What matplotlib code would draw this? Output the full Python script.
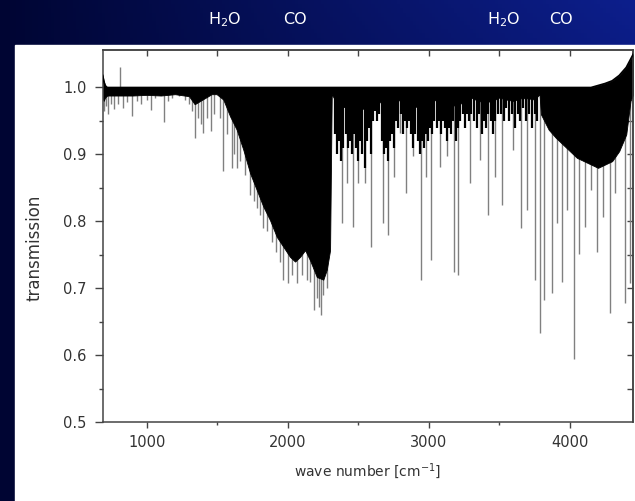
import numpy as np
import matplotlib
matplotlib.use("Agg")
import matplotlib.pyplot as plt
from matplotlib.patches import Rectangle

plt.rcParams['font.family'] = ['DejaVu Sans']
plt.rcParams['mathtext.fontset'] = 'dejavusans'

# dense absorption mass: wave number, upper and lower edge of the black area
wn = [688, 695, 705, 720, 800, 900, 1000, 1100, 1200, 1300, 1340, 1380, 1420,
      1460, 1496, 1543, 1591, 1638, 1685, 1733, 1780, 1827, 1874, 1922, 1969,
      2016, 2052, 2087, 2123, 2158, 2206, 2252, 2277, 2300, 2312, 2325, 2350,
      2380, 2420, 2450, 2500, 2550, 2600, 2640, 2680, 2720, 2760, 2800, 2850,
      2900, 2950, 3000, 3050, 3100, 3150, 3200, 3250, 3300, 3350, 3400, 3450,
      3500, 3550, 3600, 3650, 3700, 3750, 3785, 3795, 3850, 3900, 3950, 4000,
      4050, 4100, 4150, 4200, 4250, 4300, 4350, 4400, 4430, 4450]
upper = [1.018, 1.010, 1.003, 1.000, 1.000, 1.000, 1.000, 1.000, 1.000, 1.000,
         1.000, 1.000, 1.000, 1.000, 1.000, 1.000, 1.000, 1.000, 1.000, 1.000,
         1.000, 1.000, 1.000, 1.000, 1.000, 1.000, 1.000, 1.000, 1.000, 1.000,
         1.000, 1.000, 1.000, 1.000, 1.000, 1.000, 1.000, 1.000, 1.000, 1.000,
         1.000, 1.000, 1.000, 1.000, 1.000, 1.000, 1.000, 1.000, 1.000, 1.000,
         1.000, 1.000, 1.000, 1.000, 1.000, 1.000, 1.000, 1.000, 1.000, 1.000,
         1.000, 1.000, 1.000, 1.000, 1.000, 1.000, 1.000, 1.000, 1.000, 1.000,
         1.000, 1.000, 1.000, 1.000, 1.000, 1.000, 1.003, 1.006, 1.010, 1.018,
         1.030, 1.042, 1.050]
lower = [0.985, 0.980, 0.985, 0.988, 0.988, 0.988, 0.989, 0.988, 0.990, 0.987,
         0.975, 0.980, 0.985, 0.990, 0.990, 0.982, 0.957, 0.937, 0.907, 0.872,
         0.847, 0.822, 0.802, 0.777, 0.762, 0.747, 0.740, 0.747, 0.757, 0.742,
         0.717, 0.713, 0.728, 0.757, 0.990, 0.985, 0.975, 0.970, 0.972, 0.968,
         0.965, 0.970, 0.980, 0.982, 0.972, 0.970, 0.978, 0.982, 0.978, 0.972,
         0.968, 0.975, 0.982, 0.978, 0.975, 0.972, 0.980, 0.985, 0.980, 0.978,
         0.980, 0.985, 0.982, 0.980, 0.984, 0.984, 0.982, 0.990, 0.960, 0.937,
         0.925, 0.915, 0.905, 0.895, 0.890, 0.885, 0.880, 0.885, 0.890, 0.905,
         0.930, 0.980, 0.990]

# dark clustered lines hanging from the baseline between 2330 and 3790
fringe_x = [2335, 2350, 2365, 2380, 2395, 2410, 2425, 2440, 2455, 2470, 2485,
            2500, 2515, 2530, 2545, 2560, 2575, 2590, 2605, 2620, 2635, 2650,
            2665, 2680, 2695, 2710, 2725, 2740, 2755, 2770, 2785, 2800, 2815,
            2830, 2845, 2860, 2875, 2890, 2905, 2920, 2935, 2950, 2965, 2980,
            2995, 3010, 3025, 3040, 3055, 3070, 3085, 3100, 3115, 3130, 3145,
            3160, 3175, 3190, 3205, 3220, 3240, 3255, 3270, 3285, 3300, 3320,
            3340, 3355, 3375, 3390, 3405, 3420, 3440, 3455, 3470, 3490, 3510,
            3530, 3550, 3570, 3590, 3610, 3630, 3650, 3670, 3690, 3710, 3730,
            3750, 3770]
fringe_y = [0.930, 0.900, 0.920, 0.890, 0.910, 0.930, 0.910, 0.920, 0.900, 0.930,
            0.910, 0.890, 0.920, 0.900, 0.880, 0.920, 0.940, 0.900, 0.950, 0.965,
            0.950, 0.960, 0.920, 0.900, 0.910, 0.890, 0.920, 0.930, 0.910, 0.950,
            0.940, 0.960, 0.930, 0.950, 0.940, 0.950, 0.930, 0.910, 0.930, 0.920,
            0.900, 0.920, 0.910, 0.930, 0.920, 0.940, 0.930, 0.950, 0.940, 0.950,
            0.930, 0.950, 0.940, 0.920, 0.940, 0.930, 0.950, 0.920, 0.940, 0.950,
            0.960, 0.940, 0.960, 0.950, 0.960, 0.950, 0.940, 0.960, 0.930, 0.950,
            0.940, 0.960, 0.950, 0.930, 0.950, 0.960, 0.960, 0.950, 0.970, 0.950,
            0.960, 0.940, 0.960, 0.950, 0.970, 0.950, 0.960, 0.940, 0.960, 0.950]

# single long absorption lines: position and minimum transmission
line_x = [700, 712, 725, 745, 770, 800, 830, 860, 893, 930, 960, 1000, 1031,
          1060, 1123, 1150, 1180, 1230, 1270, 1300, 1320, 1345, 1365, 1385,
          1400, 1430, 1455, 1480, 1520, 1543, 1570, 1603, 1620, 1638, 1660,
          1700, 1733, 1760, 1780, 1800, 1827, 1850, 1886, 1920, 1945, 1969,
          2004, 2030, 2063, 2100, 2134, 2160, 2188, 2206, 2222, 2235, 2250,
          2275, 2342, 2383, 2418, 2465, 2501, 2548, 2588, 2673, 2713, 2756,
          2796, 2839, 2891, 2943, 2981, 3014, 3080, 3127, 3179, 3210, 3293,
          3364, 3418, 3470, 3522, 3600, 3652, 3695, 3756, 3789, 3820, 3872,
          3907, 3943, 3978, 4030, 4068, 4108, 4151, 4196, 4238, 4286, 4321,
          4392, 4427, 4445]
line_y = [0.965, 0.972, 0.960, 0.975, 0.968, 0.975, 0.970, 0.978, 0.957, 0.980,
          0.975, 0.982, 0.967, 0.985, 0.949, 0.980, 0.985, 0.988, 0.982, 0.975,
          0.965, 0.925, 0.955, 0.945, 0.932, 0.955, 0.935, 0.960, 0.955, 0.876,
          0.930, 0.880, 0.900, 0.880, 0.890, 0.870, 0.840, 0.830, 0.820, 0.810,
          0.790, 0.785, 0.770, 0.755, 0.740, 0.713, 0.708, 0.720, 0.708, 0.720,
          0.713, 0.710, 0.667, 0.685, 0.672, 0.660, 0.690, 0.700, 0.957, 0.797,
          0.857, 0.792, 0.857, 0.857, 0.762, 0.797, 0.780, 0.867, 0.932, 0.842,
          0.897, 0.713, 0.867, 0.743, 0.882, 0.897, 0.725, 0.720, 0.857, 0.892,
          0.810, 0.867, 0.825, 0.907, 0.790, 0.817, 0.713, 0.633, 0.683, 0.693,
          0.797, 0.710, 0.817, 0.595, 0.752, 0.792, 0.847, 0.755, 0.807, 0.663,
          0.842, 0.678, 0.708, 0.620]

spike_x = [811]
spike_y = [1.031]

fig = plt.figure(figsize=(6.35, 5.01), dpi=100)

# slide background: dark blue gradient with white panel
bg = fig.add_axes([0, 0, 1, 1], zorder=-10)
gx = np.linspace(0, 1, 200)[None, :]
gy = np.linspace(1, 0, 120)[:, None]
r = 0.00 + 0.05 * gx * gy
g = 0.02 + 0.10 * gx * gy
b = 0.20 + 0.30 * gx * gy + 0.05 * gx
bg.imshow(np.dstack(np.broadcast_arrays(r, g, b)), extent=[0, 1, 0, 1], aspect='auto')
bg.add_patch(Rectangle((15 / 635, 0), 1, 1 - 45 / 501, color='white'))
bg.set_xlim(0, 1)
bg.set_ylim(0, 1)
bg.axis('off')

for label, xp in [(r"H$_\mathrm{2}$O", 225), ("CO", 295), (r"H$_\mathrm{2}$O", 504), ("CO", 561)]:
    fig.text(xp / 635, 1 - 20 / 501, label, color='white', fontsize=11.5,
             ha='center', va='center')

ax = fig.add_axes([102.7 / 635, 1 - 422.3 / 501, 530.6 / 635, 372.3 / 501])
ax.fill_between(wn, lower, upper, color='black', lw=0.6, zorder=2)
ax.vlines(fringe_x, fringe_y, 0.99, color='black', lw=1.6, zorder=2)
ax.vlines(line_x, line_y, 0.99, color='#808080', lw=1.0, zorder=1)
ax.vlines(spike_x, 1.0, spike_y, color='#808080', lw=1.0, zorder=1)
ax.plot(wn, upper, color='black', lw=1.2, zorder=3)

ax.set_xlim(688, 4450)
ax.set_ylim(0.5, 1.056)
ax.set_xticks([1000, 2000, 3000, 4000])
ax.set_xticks([1500, 2500, 3500], minor=True)
ax.set_yticks([0.5, 0.6, 0.7, 0.8, 0.9, 1.0])
ax.set_yticks(np.arange(0.55, 1.05, 0.1), minor=True)
ax.yaxis.set_major_formatter(matplotlib.ticker.FormatStrFormatter('%.1f'))

ax.tick_params(axis='x', which='major', direction='out', length=4, width=1, pad=5,
               labelsize=10.5, colors='#444444', labelcolor='#333333')
ax.tick_params(axis='x', which='minor', direction='out', length=2, width=1, colors='#444444')
ax.tick_params(axis='y', which='major', direction='out', length=5.5, width=1, pad=6,
               labelsize=10.5, colors='#444444', labelcolor='#333333')
ax.tick_params(axis='y', which='minor', direction='out', length=3, width=1, colors='#444444')

top = ax.secondary_xaxis('top')
top.set_xticks([1000, 1500, 2000, 2500, 3000, 3500, 4000])
top.tick_params(direction='in', length=4, width=1, labeltop=False, colors='#444444')
right = ax.secondary_yaxis('right')
right.set_yticks(np.arange(0.55, 1.05, 0.05))
right.tick_params(direction='in', length=4, width=1, labelright=False, colors='#444444')
for sp in list(ax.spines.values()) + [top.spines['top'], right.spines['right']]:
    sp.set_color('#444444')
    sp.set_linewidth(1.1)

ax.set_xlabel(r"wave number [cm$^{\mathrm{-1}}$]", fontsize=10, color='#333333')
ax.set_ylabel("transmission", fontsize=12, color='#333333')
ax.xaxis.set_label_coords(0.5, -0.105)
ax.yaxis.set_label_coords(-0.112, 0.47)

fig.savefig("out.png", dpi=100)
